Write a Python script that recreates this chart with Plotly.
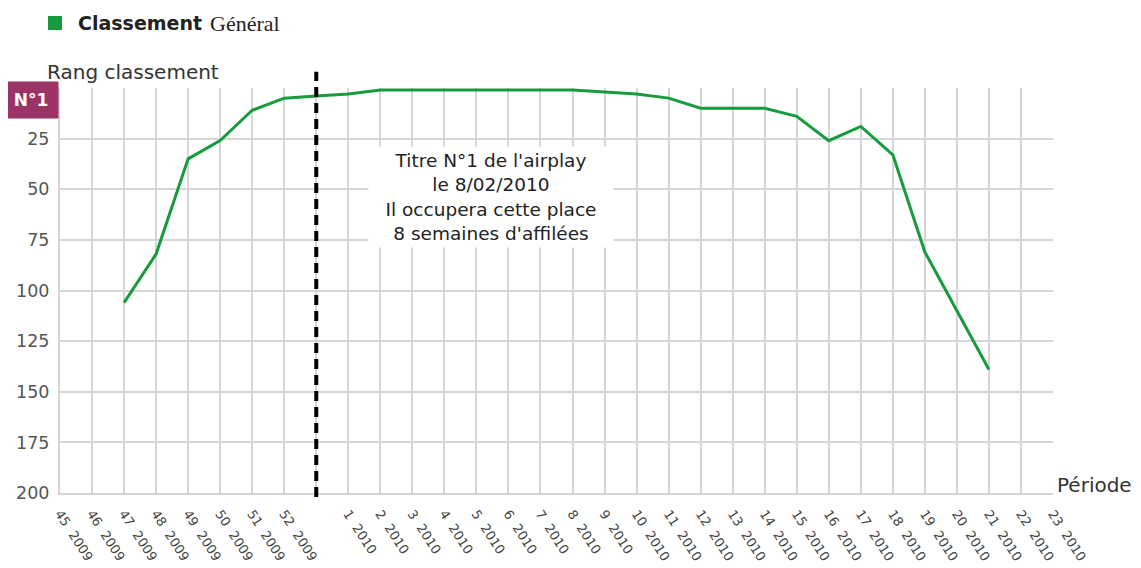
import plotly.graph_objects as go

weeks = ["45", "46", "47", "48", "49", "50", "51", "52", "",
         "1", "2", "3", "4", "5", "6", "7", "8", "9", "10", "11", "12",
         "13", "14", "15", "16", "17", "18", "19", "20", "21", "22", "23"]
years = ["2009"] * 8 + [""] + ["2010"] * 23
ranks = [None, None, 106, 82, 35, 26, 11, 5, 4, 3, 1, 1, 1, 1, 1, 1, 1, 2, 3,
         5, 10, 10, 10, 14, 26, 19, 33, 81, 110, 139, None, None]
y_ticks = [0, 25, 50, 75, 100, 125, 150, 175, 200]
y_ticktext = [""] + [str(v) for v in y_ticks[1:]]

NB = "\u00a0"
labels = [f"{w}{NB}{NB}{y}" if w else " " for w, y in zip(weeks, years)]
marker_label = " "  # the week where the title hit N°1 (dashed marker)

GREEN = "#169b3d"
GRID = "#d6d6d6"
FONT = "DejaVu Sans"

fig = go.Figure()
fig.add_trace(go.Scatter(
    x=labels, y=ranks, mode="lines",
    line=dict(color=GREEN, width=3),
    connectgaps=False, showlegend=False, hoverinfo="skip",
))

OFF = 8  # page body margin
SW, SH = 1141, 568
W, H = SW - OFF, SH - OFF
# plot area on screen: x 60..1053, y 88..493
L, T = 60 - OFF, 88 - OFF
R, B = SW - 1053, SH - 493
pw, ph = W - L - R, H - T - B


def px(x):
    return (x - OFF - L) / pw


def py(y):
    return (H - B - (y - OFF)) / ph


fig.update_layout(
    width=W, height=H,
    margin=dict(l=L, r=R, t=T, b=B, autoexpand=False),
    paper_bgcolor="white", plot_bgcolor="white",
    font=dict(family=FONT, color="#444"),
    xaxis=dict(
        type="category", categoryorder="array", categoryarray=labels,
        range=[0, len(labels) - 1], automargin=False,
        tickmode="array", tickvals=labels, ticktext=labels,
        tickangle=57, tickfont=dict(size=13, color="#444", family=FONT),
        showgrid=True, gridcolor=GRID, gridwidth=2,
        showline=True, linecolor=GRID, linewidth=2,
        zeroline=False, ticks="", ticklabelstandoff=6,
    ),
    yaxis=dict(
        range=[200, 0], automargin=False,
        tickmode="array", tickvals=y_ticks, ticktext=y_ticktext,
        tickfont=dict(size=17.5, color="#555", family=FONT),
        showgrid=True, gridcolor=GRID, gridwidth=2,
        showline=True, linecolor=GRID, linewidth=2,
        zeroline=False, ticks="", ticklabelstandoff=5,
    ),
)

# dashed marker line at the week the title reached N°1
fig.add_shape(type="line", xref="x", yref="paper",
              x0=marker_label, x1=marker_label, y0=-0.01, y1=1.04,
              line=dict(color="black", width=4, dash="10px,6px"))

# legend square
fig.add_shape(type="rect", xref="paper", yref="paper",
              x0=px(48), x1=px(62), y0=py(30), y1=py(16),
              fillcolor=GREEN, line=dict(width=0))

annos = [
    dict(x=px(76), y=py(23), text="<b>Classement</b>", xanchor="left", yanchor="middle",
         font=dict(family=FONT, size=19, color="#222")),
    dict(x=px(208), y=py(24), text="Général", xanchor="left", yanchor="middle",
         font=dict(family="Liberation Serif", size=22, color="#222")),
    dict(x=px(45), y=py(72), text="Rang classement", xanchor="left", yanchor="middle",
         font=dict(family=FONT, size=20, color="#333")),
    dict(x=px(1055), y=py(485), text="Période", xanchor="left", yanchor="middle",
         font=dict(family=FONT, size=20, color="#333")),
    dict(x=px(31), y=py(100), text="<b>N°1</b>", xanchor="center", yanchor="middle",
         width=52, height=34, bgcolor="#9b3366",
         font=dict(family=FONT, size=17, color="white")),
    dict(x=px(491), y=py(197), xanchor="center", yanchor="middle",
         text="Titre N°1 de l'airplay<br>le 8/02/2010<br>Il occupera cette place<br>8 semaines d'affilées",
         width=242, height=98, bgcolor="white", align="center",
         font=dict(family=FONT, size=18.5, color="#222")),
]
for a in annos:
    fig.add_annotation(xref="paper", yref="paper", showarrow=False, **a)

fig.write_html("out.html")
